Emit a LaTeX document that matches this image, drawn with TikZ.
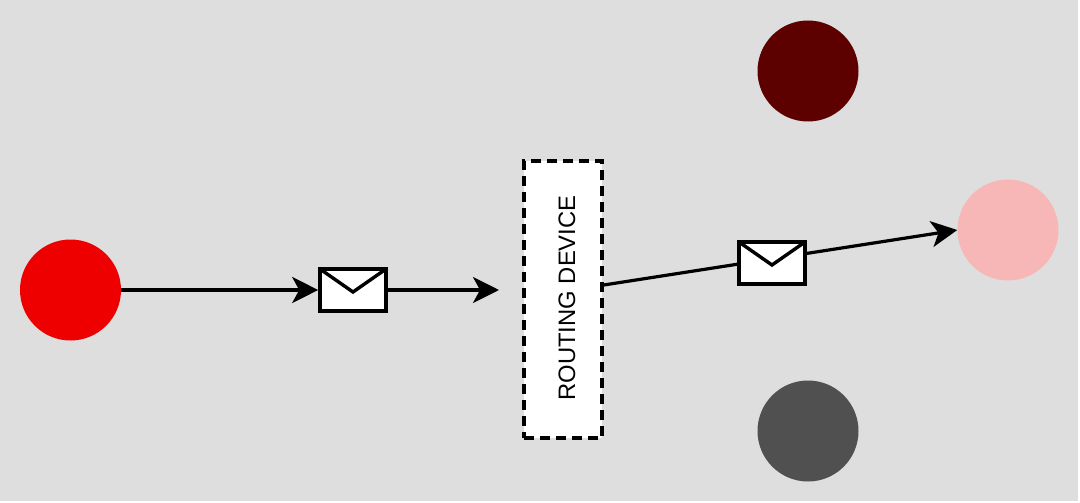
\documentclass[tikz,border=0pt]{standalone}
\usepackage{fontspec}
\setmainfont{Liberation Sans}
\usetikzlibrary{arrows.meta}
\definecolor{bggray}{HTML}{DEDEDE}
\definecolor{srcred}{HTML}{EE0000}
\definecolor{darkred}{HTML}{5C0000}
\definecolor{pinkdot}{HTML}{F8B7B7}
\definecolor{graydot}{HTML}{505050}
\begin{document}
\begin{tikzpicture}[x=1pt,y=-1pt,
  dot/.style={circle,minimum size=101pt,inner sep=0pt,draw=none},
  envelope/.style={draw=black,line width=3.6pt,fill=white,minimum width=66pt,minimum height=42pt,inner sep=0pt,
    path picture={\draw[line width=3.4pt] (path picture bounding box.north west) -- ([yshift=-2pt]path picture bounding box.center) -- (path picture bounding box.north east);}},
  conn/.style={line width=3.2pt,-{Stealth[length=26pt,width=26pt,inset=7pt]}},
  routerbox/.style={draw=black,dash pattern=on 10pt off 6pt,line width=3.6pt,fill=white,minimum width=78pt,minimum height=277pt,inner sep=0pt},
  label/.style={font=\fontsize{23.8}{28}\selectfont,inner sep=0pt,rotate=90}]
% background
\fill[white] (0,0) rectangle (1080,503);
\fill[bggray] (0,0) rectangle (1078,501);
\useasboundingbox (0,0) rectangle (1080,503);
% dots
\node[dot,fill=srcred] (src) at (70.5,290) {};
\node[dot,fill=darkred] (top) at (808,71) {};
\node[dot,fill=pinkdot] (dst) at (1008,230) {};
\node[dot,fill=graydot] (bottom) at (808,431) {};
% routing device
\node[routerbox] (router) at (563,299.5) {};
\node[label] (rtext) at (567,298) {ROUTING DEVICE};
% first message
\node[envelope] (env1) at (353,290) {};
\coordinate (tip1) at (499,290);
\draw[conn] (src) -- (env1);
\draw[conn] (env1) -- (tip1);
% second message
\draw[conn] ([yshift=14.5pt]router.east) -- (dst.west);
\node[envelope] (env2) at (772,263) {};
\end{tikzpicture}
\end{document}
